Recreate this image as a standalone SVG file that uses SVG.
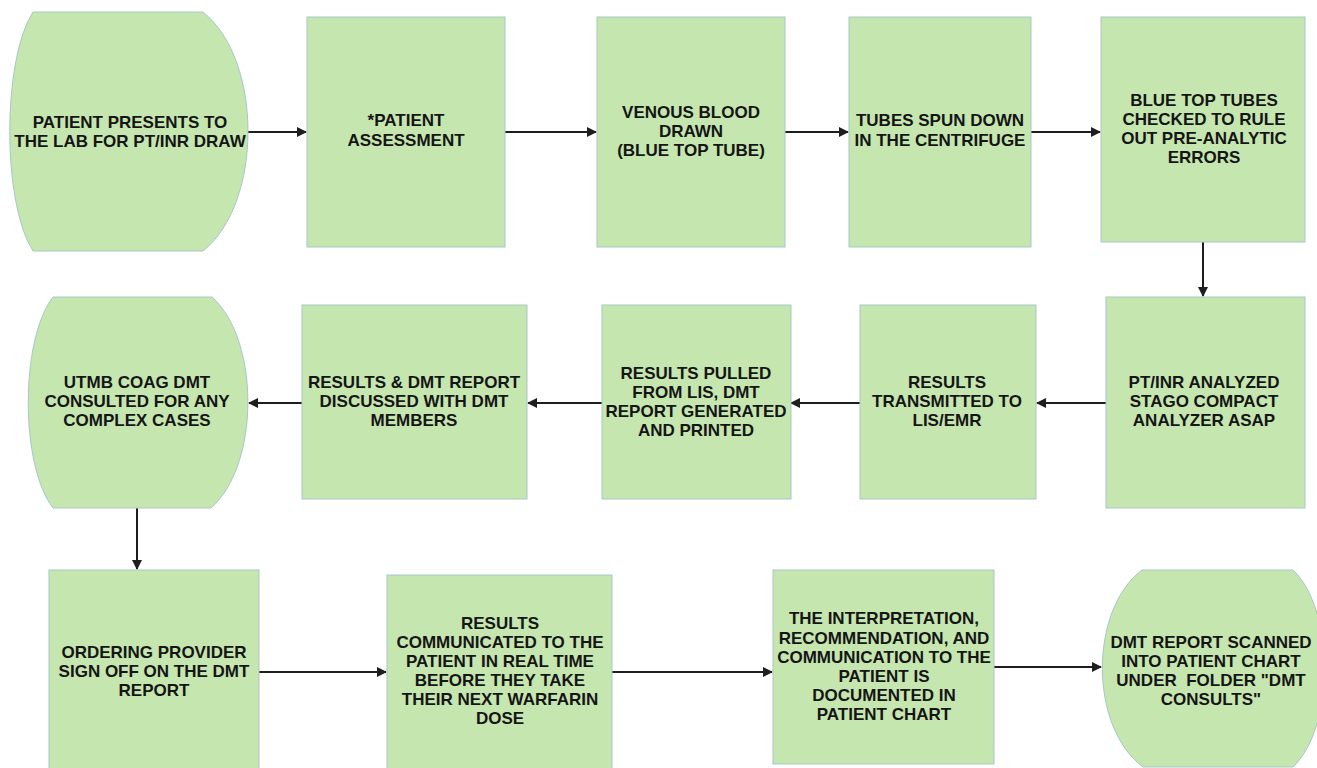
<svg xmlns="http://www.w3.org/2000/svg" width="1317" height="768" viewBox="0 0 1317 768">
<style>
.n{fill:#c6e6b0;stroke:#a6c8c6;stroke-width:1}
.t{font-family:"Liberation Sans",Arial,sans-serif;font-weight:bold;font-size:17px;fill:#151515;text-anchor:middle}
.c{stroke:#1e1e1e;stroke-width:2;fill:none;marker-end:url(#ah)}
</style>
<defs>
<marker id="ah" viewBox="0 0 10 10" refX="9" refY="5" markerWidth="5" markerHeight="5" orient="auto" markerUnits="strokeWidth">
<path d="M0,0 L10,5 L0,10 Z" fill="#1e1e1e"/>
</marker>
</defs>
<rect width="1317" height="768" fill="#ffffff"/>
<g id="connectors">
<line class="c" x1="248" y1="132" x2="306" y2="132"/>
<line class="c" x1="505" y1="132" x2="596" y2="132"/>
<line class="c" x1="785" y1="132" x2="848" y2="132"/>
<line class="c" x1="1031" y1="132" x2="1100" y2="132"/>
<line class="c" x1="1203" y1="242" x2="1203" y2="296"/>
<line class="c" x1="1106" y1="403" x2="1037" y2="403"/>
<line class="c" x1="860" y1="403" x2="791" y2="403"/>
<line class="c" x1="602" y1="403" x2="528" y2="403"/>
<line class="c" x1="302" y1="403" x2="249" y2="403"/>
<line class="c" x1="137" y1="508" x2="137" y2="569"/>
<line class="c" x1="258" y1="672" x2="386" y2="672"/>
<line class="c" x1="612" y1="672" x2="772" y2="672"/>
<line class="c" x1="994" y1="667" x2="1101" y2="667"/>
</g>
<g id="n1">
<path class="n" d="M33,12 H203 C263,60 263,203 203,251 H33 C2,203 2,60 33,12 Z"/>
<text class="t" x="130" y="128">PATIENT PRESENTS TO</text>
<text class="t" x="130" y="147">THE LAB FOR PT/INR DRAW</text>
</g>
<g id="n2">
<rect class="n" x="307" y="17" width="198" height="230"/>
<text class="t" x="406" y="126">*PATIENT</text>
<text class="t" x="406" y="146">ASSESSMENT</text>
</g>
<g id="n3">
<rect class="n" x="597" y="17" width="188" height="230"/>
<text class="t" x="691" y="118">VENOUS BLOOD</text>
<text class="t" x="691" y="137">DRAWN</text>
<text class="t" x="691" y="156">(BLUE TOP TUBE)</text>
</g>
<g id="n4">
<rect class="n" x="849" y="17" width="182" height="230"/>
<text class="t" x="940" y="126">TUBES SPUN DOWN</text>
<text class="t" x="940" y="146">IN THE CENTRIFUGE</text>
</g>
<g id="n5">
<rect class="n" x="1101" y="17" width="204" height="225"/>
<text class="t" x="1204" y="106">BLUE TOP TUBES</text>
<text class="t" x="1204" y="125">CHECKED TO RULE</text>
<text class="t" x="1204" y="144">OUT PRE-ANALYTIC</text>
<text class="t" x="1204" y="163">ERRORS</text>
</g>
<g id="n6">
<rect class="n" x="1106" y="297" width="199" height="211"/>
<text class="t" x="1204" y="388">PT/INR ANALYZED</text>
<text class="t" x="1204" y="407">STAGO COMPACT</text>
<text class="t" x="1204" y="426">ANALYZER ASAP</text>
</g>
<g id="n7">
<rect class="n" x="860" y="305" width="176" height="194"/>
<text class="t" x="947" y="388">RESULTS</text>
<text class="t" x="947" y="407">TRANSMITTED TO</text>
<text class="t" x="947" y="426">LIS/EMR</text>
</g>
<g id="n8">
<rect class="n" x="602" y="305" width="189" height="194"/>
<text class="t" x="696" y="379">RESULTS PULLED</text>
<text class="t" x="696" y="398">FROM LIS, DMT</text>
<text class="t" x="696" y="417">REPORT GENERATED</text>
<text class="t" x="696" y="436">AND PRINTED</text>
</g>
<g id="n9">
<rect class="n" x="302" y="305" width="225" height="194"/>
<text class="t" x="414" y="388">RESULTS &amp; DMT REPORT</text>
<text class="t" x="414" y="407">DISCUSSED WITH DMT</text>
<text class="t" x="414" y="426">MEMBERS</text>
</g>
<g id="n10">
<path class="n" d="M53,297 H212 C260,340 260,465 211,508 H53 C20,465 20,340 53,297 Z"/>
<text class="t" x="137" y="388">UTMB COAG DMT</text>
<text class="t" x="137" y="407">CONSULTED FOR ANY</text>
<text class="t" x="137" y="426">COMPLEX CASES</text>
</g>
<g id="n11">
<rect class="n" x="49" y="570" width="210" height="199"/>
<text class="t" x="154" y="658">ORDERING PROVIDER</text>
<text class="t" x="154" y="677">SIGN OFF ON THE DMT</text>
<text class="t" x="154" y="696">REPORT</text>
</g>
<g id="n12">
<rect class="n" x="387" y="575" width="225" height="194"/>
<text class="t" x="500" y="629">RESULTS</text>
<text class="t" x="500" y="648">COMMUNICATED TO THE</text>
<text class="t" x="500" y="667">PATIENT IN REAL TIME</text>
<text class="t" x="500" y="686">BEFORE THEY TAKE</text>
<text class="t" x="500" y="705">THEIR NEXT WARFARIN</text>
<text class="t" x="500" y="724">DOSE</text>
</g>
<g id="n13">
<rect class="n" x="773" y="570" width="221" height="194"/>
<text class="t" x="884" y="624">THE INTERPRETATION,</text>
<text class="t" x="884" y="644">RECOMMENDATION, AND</text>
<text class="t" x="884" y="663">COMMUNICATION TO THE</text>
<text class="t" x="884" y="682">PATIENT IS</text>
<text class="t" x="884" y="701">DOCUMENTED IN</text>
<text class="t" x="884" y="720">PATIENT CHART</text>
</g>
<g id="n14">
<path class="n" d="M1142,570 H1293 C1335,610 1335,727 1293,767 H1143 C1089,727 1089,610 1142,570 Z"/>
<text class="t" x="1211" y="648">DMT REPORT SCANNED</text>
<text class="t" x="1211" y="667">INTO PATIENT CHART</text>
<text class="t" x="1211" y="686" xml:space="preserve">UNDER  FOLDER "DMT</text>
<text class="t" x="1211" y="705">CONSULTS"</text>
</g>
</svg>
